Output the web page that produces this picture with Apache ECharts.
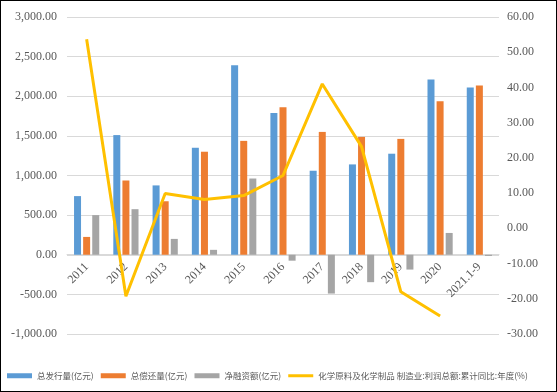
<!DOCTYPE html>
<html><head><meta charset="utf-8">
<script src="https://cdn.jsdelivr.net/npm/echarts@6/dist/echarts.min.js"></script>
<style>html,body{margin:0;padding:0;background:#fff}#c{width:557px;height:392px;box-sizing:border-box;border:1px solid #000}</style>
</head><body><div id="c"></div>
<script>
const categories = ['2011','2012','2013','2014','2015','2016','2017','2018','2019','2020','2021.1-9'];
const issuance = [740, 1510, 875, 1350, 2390, 1790, 1060, 1140, 1275, 2210, 2110];
const repayment = [225, 937, 675, 1300, 1437, 1862, 1550, 1487, 1462, 1937, 2137];
const netFinancing = [500, 575, 200, 62, 962, -75, -490, -346, -187, 275, -15];
const profitYoY = [53.7, -19.3, 9.9, 8.2, 9.3, 15.0, 41.0, 23.2, -18.0, -24.9, null];
const leftTicks = {min: -1000, max: 3000, interval: 500};
const rightTicks = {min: -30, max: 60, interval: 10};
const names = ['总发行量(亿元)', '总偿还量(亿元)', '净融资额(亿元)', '化学原料及化学制品 制造业:利润总额:累计同比:年度(%)'];

const chart = echarts.init(document.getElementById('c'), null, {renderer: 'canvas'});
const fmt = v => v.toLocaleString('en-US', {minimumFractionDigits: 2, maximumFractionDigits: 2});
const lab = {color: '#595959', fontFamily: 'Liberation Serif', fontSize: 12};
chart.setOption({
  animation: false,
  grid: {left: 66, right: 57, top: 16, bottom: 57},
  legend: {
    bottom: 11, left: 6, width: 550, padding: 0, itemGap: 7, itemWidth: 25, itemHeight: 5,
    textStyle: {color: '#595959', fontSize: 8.5, fontFamily: 'Noto Sans CJK SC'},
    data: [
      {name: names[0], icon: 'rect'}, {name: names[1], icon: 'rect'}, {name: names[2], icon: 'rect'},
      {name: names[3], icon: 'path://M0,0M0,5M0,1h25v3h-25z'}
    ]
  },
  xAxis: {
    type: 'category', data: categories, position: 'bottom', offset: -80,
    axisLine: {onZero: false, lineStyle: {color: '#D9D9D9'}},
    axisTick: {show: false},
    axisLabel: Object.assign({rotate: 45, interval: 0, margin: 11}, lab)
  },
  yAxis: [
    {type: 'value', min: leftTicks.min, max: leftTicks.max, interval: leftTicks.interval,
     axisLabel: Object.assign({formatter: fmt, margin: 10}, lab),
     axisLine: {show: false}, axisTick: {show: false},
     splitLine: {lineStyle: {color: '#D9D9D9'}}},
    {type: 'value', min: rightTicks.min, max: rightTicks.max, interval: rightTicks.interval,
     axisLabel: Object.assign({formatter: v => v.toFixed(2), margin: 8}, lab),
     axisLine: {show: false}, axisTick: {show: false},
     splitLine: {show: false}}
  ],
  series: [
    {name: names[0], type: 'bar', data: issuance, barWidth: 7, barGap: '30%', itemStyle: {color: '#5B9BD5'}},
    {name: names[1], type: 'bar', data: repayment, barWidth: 7, barGap: '30%', itemStyle: {color: '#ED7D31'}},
    {name: names[2], type: 'bar', data: netFinancing, barWidth: 7, barGap: '30%', itemStyle: {color: '#A5A5A5'}},
    {name: names[3], type: 'line', yAxisIndex: 1, data: profitYoY, symbol: 'none',
     lineStyle: {color: '#FFC000', width: 3}, itemStyle: {color: '#FFC000'}}
  ]
});
</script></body></html>
